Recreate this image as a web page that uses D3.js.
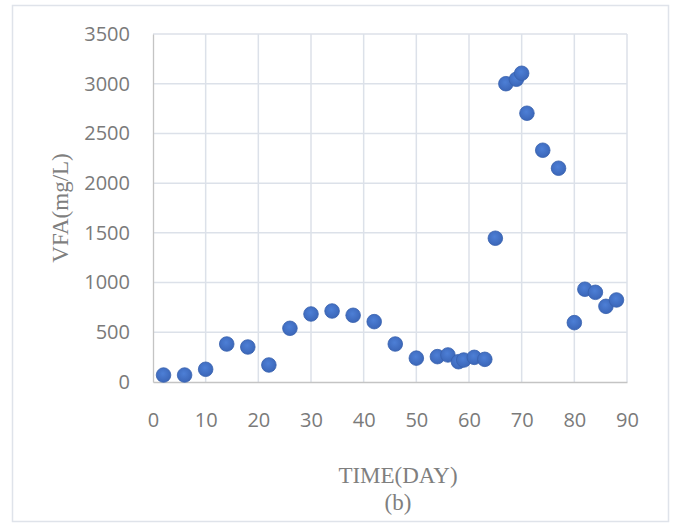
<!DOCTYPE html>
<html>
<head>
<meta charset="utf-8">
<script src="https://cdn.jsdelivr.net/npm/d3@7"></script>
<style>
  body { margin: 0; background: #fff; }
</style>
</head>
<body>
<script>
// VFA concentration over time
const days = [2, 6, 10, 14, 18, 22, 26, 30, 34, 38, 42, 46, 50, 54, 56, 58, 59, 61, 63, 65, 67, 69, 70, 71, 74, 77, 80, 82, 84, 86, 88]
const vfa = [70, 70, 128, 382, 352, 171, 540, 684, 714, 671, 607, 382, 240, 255, 272, 204, 221, 248, 228, 1446, 3000, 3045, 3105, 2703, 2331, 2150, 597, 933, 902, 761, 825]
const xTicks = [0, 10, 20, 30, 40, 50, 60, 70, 80, 90]
const yTicks = [0, 500, 1000, 1500, 2000, 2500, 3000, 3500]

const w = 678
const h = 525
const plot = { left: 153, right: 627, top: 34, bottom: 382 }

const svg = d3.select("body")
              .append("svg")
              .attr("width", w)
              .attr("height", h)

// Outer chart frame
svg.append("rect")
   .attr("x", 12.5)
   .attr("y", 5.5)
   .attr("width", 656)
   .attr("height", 516)
   .attr("fill", "#fff")
   .attr("stroke", "#dfe3ea")
   .attr("stroke-width", 1.5)

const x = d3.scaleLinear().domain([0, 90]).range([plot.left, plot.right])
const y = d3.scaleLinear().domain([0, 3500]).range([plot.bottom, plot.top])

// Gridlines
svg.append("g")
   .selectAll("line")
   .data(xTicks.slice(1))
   .enter()
   .append("line")
   .attr("x1", d => x(d)).attr("x2", d => x(d))
   .attr("y1", plot.top).attr("y2", plot.bottom)
   .attr("stroke", "#dce1e9")
   .attr("stroke-width", 1.5)

svg.append("g")
   .selectAll("line")
   .data(yTicks.slice(1))
   .enter()
   .append("line")
   .attr("x1", plot.left).attr("x2", plot.right)
   .attr("y1", d => y(d)).attr("y2", d => y(d))
   .attr("stroke", "#dce1e9")
   .attr("stroke-width", 1.5)

// Axes
const xAxis = svg.append("g")
                 .attr("transform", `translate(0, ${plot.bottom})`)
                 .call(d3.axisBottom(x).tickValues(xTicks).tickFormat(d3.format("d")).tickSize(0).tickPadding(31))
const yAxis = svg.append("g")
                 .attr("transform", `translate(${plot.left}, 0)`)
                 .call(d3.axisLeft(y).tickValues(yTicks).tickFormat(d3.format("d")).tickSize(0).tickPadding(23))

;[xAxis, yAxis].forEach(a => {
  a.select(".domain").attr("stroke", "#c4c4c4").attr("stroke-width", 1.3)
  a.selectAll("text")
   .attr("fill", "#7a7a7a")
   .style("font-family", "'Open Sans', sans-serif")
   .style("font-size", "20px")
})

// Points
const defs = svg.append("defs")
const grad = defs.append("radialGradient")
                 .attr("id", "dot")
                 .attr("cx", "45%").attr("cy", "40%").attr("r", "60%")
grad.append("stop").attr("offset", "0%").attr("stop-color", "#4d7fd6")
grad.append("stop").attr("offset", "100%").attr("stop-color", "#3b66b8")

svg.append("g")
   .selectAll("circle")
   .data(days)
   .enter()
   .append("circle")
   .attr("cx", (d, i) => x(d))
   .attr("cy", (d, i) => y(vfa[i]))
   .attr("r", 7.3)
   .attr("fill", "url(#dot)")
   .attr("stroke", "#3761ad")
   .attr("stroke-width", 0.8)

// Axis titles
const serif = "'Liberation Serif', 'Times New Roman', serif"
svg.append("text")
   .text("VFA(mg/L)")
   .attr("transform", `translate(68, ${(plot.top + plot.bottom) / 2}) rotate(-90)`)
   .attr("text-anchor", "middle")
   .attr("fill", "#7f7f7f")
   .style("font-family", serif)
   .style("font-size", "23px")

svg.append("text")
   .text("TIME(DAY)")
   .attr("x", 398)
   .attr("y", 483)
   .attr("text-anchor", "middle")
   .attr("fill", "#7f7f7f")
   .style("font-family", serif)
   .style("font-size", "23px")

svg.append("text")
   .text("(b)")
   .attr("x", 398)
   .attr("y", 510)
   .attr("text-anchor", "middle")
   .attr("fill", "#7f7f7f")
   .style("font-family", serif)
   .style("font-size", "23px")
</script>
</body>
</html>
